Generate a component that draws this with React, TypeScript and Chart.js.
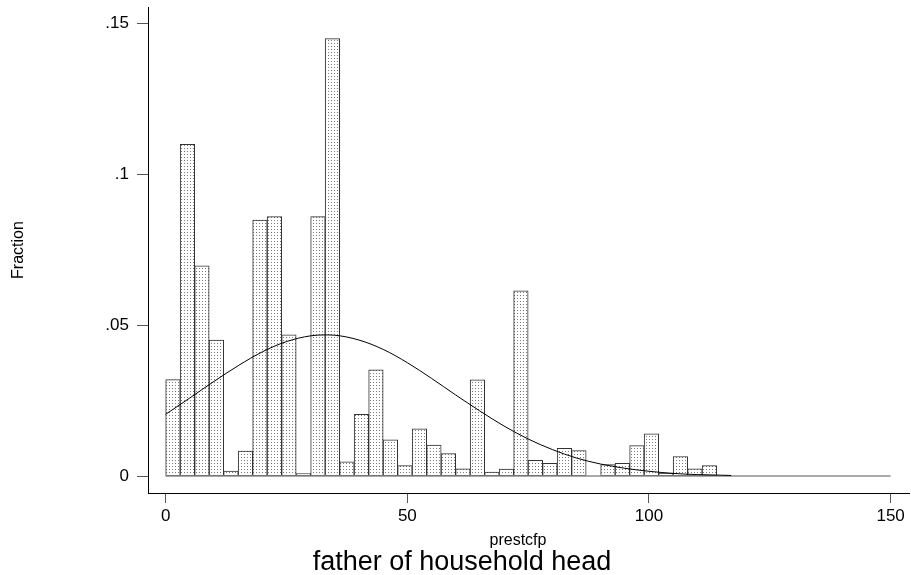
import React, { useEffect, useRef } from "react";
import { Chart, registerables } from "chart.js";

Chart.register(...registerables);

// Histogram bins (lower edges), bin width 3
const BIN_LEFT = [
  0, 3, 6, 9, 12, 15, 18, 21, 24, 27, 30, 33, 36, 39, 42, 45, 48, 51, 54, 57,
  60, 63, 66, 69, 72, 75, 78, 81, 84, 87, 90, 93, 96, 99, 102, 105, 108, 111,
];
const BIN_WIDTH = 3;
const FRACTION = [
  0.032, 0.11, 0.0697, 0.0451, 0.0017, 0.0083, 0.0849, 0.086, 0.0468, 0.0008,
  0.086, 0.145, 0.0047, 0.0205, 0.0352, 0.012, 0.0035, 0.0157, 0.0103, 0.0075,
  0.0024, 0.0319, 0.0013, 0.0023, 0.0614, 0.0052, 0.0042, 0.0092, 0.0085, 0,
  0.0038, 0.0042, 0.0101, 0.014, 0.001, 0.0065, 0.0024, 0.0035,
];

// Normal density overlay
const CURVE_X = [
  0, 5, 10, 15, 20, 25, 30, 33, 35, 40, 45, 50, 55, 60, 65, 70, 75, 80, 85, 90,
  95, 100, 105, 110, 115, 117,
];
const CURVE_Y = [
  0.0205, 0.0259, 0.0314, 0.0366, 0.0412, 0.0446, 0.0465, 0.0468, 0.0467,
  0.0451, 0.042, 0.0376, 0.0324, 0.0269, 0.0216, 0.0166, 0.0123, 0.0088,
  0.006, 0.004, 0.0026, 0.0016, 0.0009, 0.0005, 0.0003, 0.0002,
];

// Baseline drawn across the full range
const BASE_X = [0, 150];
const BASE_Y = [0, 0];

const X_TICKS = [0, 50, 100, 150];
const X_TICK_LABELS = ["0", "50", "100", "150"];
const Y_TICKS = [0, 0.05, 0.1, 0.15];
const Y_TICK_LABELS = ["0", ".05", ".1", ".15"];

const X_TITLE = "prestcfp";
const Y_TITLE = "Fraction";
const NOTE = "father of household head";

const FONT = '"Liberation Sans", Arial, Helvetica, sans-serif';

export default function App() {
  const ref = useRef<HTMLCanvasElement | null>(null);

  useEffect(() => {
    const canvas = ref.current;
    if (!canvas) return;
    const ctx = canvas.getContext("2d");
    if (!ctx) return;

    const tile = document.createElement("canvas");
    tile.width = 3;
    tile.height = 3;
    const tctx = tile.getContext("2d")!;
    tctx.fillStyle = "#ffffff";
    tctx.fillRect(0, 0, 3, 3);
    tctx.fillStyle = "#7a7a7a";
    tctx.fillRect(1, 1, 1, 1);
    const pattern = ctx.createPattern(tile, "repeat")!;

    const textPlugin = {
      id: "textPlugin",
      afterDraw(chart: any) {
        const c = chart.ctx;
        c.save();
        c.fillStyle = "#000";
        c.textAlign = "center";
        c.textBaseline = "middle";
        c.font = `16px ${FONT}`;
        c.fillText(X_TITLE, 518, 541);
        c.textBaseline = "alphabetic";
        c.font = `27px ${FONT}`;
        c.fillText(NOTE, 462, 570);
        c.restore();
      },
    };

    const chart = new Chart(ctx, {
      type: "bar",
      data: {
        datasets: [
          {
            type: "line",
            data: CURVE_X.map((x, i) => ({ x, y: CURVE_Y[i] })),
            borderColor: "#000",
            borderWidth: 1,
            pointRadius: 0,
            cubicInterpolationMode: "monotone",
            fill: false,
            order: 1,
          } as any,
          {
            type: "line",
            data: BASE_X.map((x, i) => ({ x, y: BASE_Y[i] })),
            borderColor: "#8c8c8c",
            borderWidth: 1.5,
            pointRadius: 0,
            fill: false,
            order: 2,
          } as any,
          {
            type: "bar",
            data: BIN_LEFT.map((l, i) => ({ x: l + BIN_WIDTH / 2, y: FRACTION[i] })),
            backgroundColor: pattern,
            borderColor: "#333",
            borderWidth: 1,
            borderSkipped: false,
            barPercentage: 1,
            categoryPercentage: 1,
            grouped: false,
            order: 3,
          } as any,
        ],
      },
      options: {
        responsive: false,
        animation: false,
        devicePixelRatio: 1,
        layout: { padding: { left: 0, top: 7, right: 2, bottom: 0 } },
        plugins: {
          legend: { display: false },
          tooltip: { enabled: false },
          title: { display: false },
        },
        scales: {
          x: {
            type: "linear",
            min: -3.66,
            max: 153.8,
            offset: false,
            grid: {
              display: true,
              drawOnChartArea: false,
              drawTicks: true,
              tickLength: 10,
              color: "#555",
              offset: false,
            },
            border: { display: true, color: "#000", width: 1 },
            ticks: {
              padding: 3,
              color: "#000",
              font: { family: FONT, size: 17 },
              maxRotation: 0,
              autoSkip: false,
              callback: (v: any) => {
                const i = X_TICKS.indexOf(Number(v));
                return i >= 0 ? X_TICK_LABELS[i] : "";
              },
            },
            afterBuildTicks: (s: any) => {
              s.ticks = X_TICKS.map((value) => ({ value }));
            },
            afterFit: (s: any) => {
              s.height = 82;
            },
          },
          y: {
            type: "linear",
            min: -0.0056,
            max: 0.1555,
            beginAtZero: false,
            grid: {
              display: true,
              drawOnChartArea: false,
              drawTicks: true,
              tickLength: 11,
              color: "#555",
            },
            border: { display: true, color: "#000", width: 1 },
            ticks: {
              padding: 8,
              color: "#000",
              font: { family: FONT, size: 17 },
              autoSkip: false,
              callback: (v: any) => {
                const i = Y_TICKS.findIndex((t) => Math.abs(t - Number(v)) < 1e-9);
                return i >= 0 ? Y_TICK_LABELS[i] : "";
              },
            },
            afterBuildTicks: (s: any) => {
              s.ticks = Y_TICKS.map((value) => ({ value }));
            },
            afterFit: (s: any) => {
              s.width = 148;
              s.paddingTop = 0;
              s.paddingBottom = 0;
            },
            title: {
              display: true,
              text: Y_TITLE,
              color: "#000",
              font: { family: FONT, size: 16 },
              padding: { top: 9, bottom: 0 },
            },
          },
        },
      },
      plugins: [textPlugin],
    });

    return () => chart.destroy();
  }, []);

  return (
    <div style={{ position: "fixed", left: 0, top: 0, width: 911, height: 575, background: "#fff" }}>
      <canvas ref={ref} width={911} height={575} style={{ width: 911, height: 575 }} />
    </div>
  );
}
